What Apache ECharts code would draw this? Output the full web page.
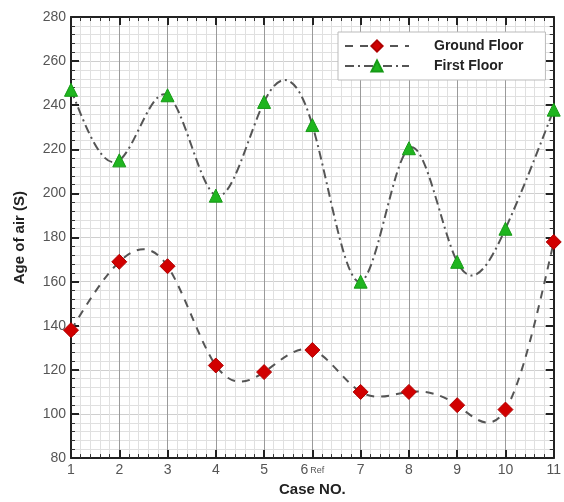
<!DOCTYPE html>
<html>
<head>
<meta charset="utf-8">
<script src="https://cdn.jsdelivr.net/npm/echarts@6/dist/echarts.min.js"></script>
<style>
  html, body { margin: 0; padding: 0; background: #fff; }
  #main { width: 564px; height: 502px; }
</style>
</head>
<body>
<div id="main"></div>
<script>
// case numbers 1..11
var cases = [1, 2, 3, 4, 5, 6, 7, 8, 9, 10, 11];
var groundFloor = [138, 169, 167, 122, 119, 129, 110, 110, 104, 102, 178];
var firstFloor = [247, 215, 244.5, 199, 241.5, 231, 160, 220.5, 169, 184, 238];
var yTicks = [80, 100, 120, 140, 160, 180, 200, 220, 240, 260, 280];

function pairs(vals) {
  return cases.map(function (c, i) { return [c, vals[i]]; });
}

// natural cubic spline through the points, drawn as bezier segments in pixel space
function splinePath(api, xs, ys) {
  var n = xs.length, M = new Array(n).fill(0);
  var a = [], b = [], c = [], d = [];
  for (var i = 1; i < n - 1; i++) {
    var h0 = xs[i] - xs[i - 1], h1 = xs[i + 1] - xs[i];
    a.push(h0); b.push(2 * (h0 + h1)); c.push(h1);
    d.push(6 * ((ys[i + 1] - ys[i]) / h1 - (ys[i] - ys[i - 1]) / h0));
  }
  var m = b.length;
  for (var k = 1; k < m; k++) {
    var w = a[k] / b[k - 1];
    b[k] -= w * c[k - 1];
    d[k] -= w * d[k - 1];
  }
  for (var k2 = m - 1; k2 >= 0; k2--) {
    M[k2 + 1] = (d[k2] - (k2 < m - 1 ? c[k2] * M[k2 + 2] : 0)) / b[k2];
  }
  var p0 = api.coord([xs[0], ys[0]]);
  var path = "M" + p0[0] + " " + p0[1];
  for (var j = 0; j < n - 1; j++) {
    var h = xs[j + 1] - xs[j];
    var s = (ys[j + 1] - ys[j]) / h;
    var d0 = s - h * (2 * M[j] + M[j + 1]) / 6;
    var d1 = s + h * (M[j] + 2 * M[j + 1]) / 6;
    var c1 = api.coord([xs[j] + h / 3, ys[j] + d0 * h / 3]);
    var c2 = api.coord([xs[j + 1] - h / 3, ys[j + 1] - d1 * h / 3]);
    var e = api.coord([xs[j + 1], ys[j + 1]]);
    path += " C" + c1[0] + " " + c1[1] + " " + c2[0] + " " + c2[1] + " " + e[0] + " " + e[1];
  }
  return path;
}

function curveSeries(vals, dash) {
  return {
    type: "custom",
    silent: true,
    clip: false,
    z: 2,
    data: [0],
    renderItem: function (params, api) {
      return {
        type: "path",
        shape: { pathData: splinePath(api, cases, vals) },
        style: { fill: null, stroke: "#555", lineWidth: 2, lineDash: dash }
      };
    }
  };
}

var axisLine = { show: true, lineStyle: { color: "#222", width: 2 } };
var minorTick = { show: true, splitNumber: 5, length: 4, lineStyle: { color: "#333" } };
var minorGrid = { show: true, lineStyle: { color: "#e0e0e0", width: 1 } };
var majorTick = { show: true, inside: true, length: 8, lineStyle: { color: "#222", width: 2 } };

var myChart = echarts.init(document.getElementById("main"));
var option = {
  animation: false,
  textStyle: { fontFamily: "Liberation Sans, Arial, sans-serif" },
  grid: { left: 71, right: 4, top: 17, bottom: 39 },
  legend: {
    left: 338,
    top: 32,
    orient: "vertical",
    backgroundColor: "#fff",
    borderColor: "#bbb",
    borderWidth: 1,
    padding: [7, 22, 7, 6],
    itemGap: 6,
    itemWidth: 64,
    itemHeight: 14,
    textStyle: { fontSize: 14, fontWeight: "bold", color: "#222", padding: [0, 0, 0, 20] },
    data: [
      { name: "Ground Floor", lineStyle: { opacity: 1, color: "#555", width: 2, type: [8, 7] } },
      { name: "First Floor", lineStyle: { opacity: 1, color: "#555", width: 2, type: [9, 4, 2, 4] } }
    ]
  },
  xAxis: [
    {
      type: "value",
      min: 1,
      max: 11,
      interval: 1,
      name: "Case NO.",
      nameLocation: "middle",
      nameGap: 20,
      nameTextStyle: { fontSize: 15, fontWeight: "bold", color: "#222" },
      axisLine: axisLine,
      axisTick: majorTick,
      minorTick: minorTick,
      axisLabel: {
        color: "#555",
        fontSize: 14,
        margin: 5,
        formatter: function (v) { return v === 6 ? "6{r|Ref}" : String(v); },
        rich: { r: { fontSize: 9, color: "#555", padding: [0, 0, 0, 2] } }
      },
      splitLine: { show: true, lineStyle: { color: "#9a9a9a", width: 1 } },
      minorSplitLine: minorGrid
    },
    {
      type: "value",
      position: "top",
      min: 1,
      max: 11,
      interval: 1,
      axisLine: axisLine,
      axisTick: majorTick,
      minorTick: minorTick,
      axisLabel: { show: false },
      splitLine: { show: false }
    }
  ],
  yAxis: [
    {
      type: "value",
      min: 80,
      max: 280,
      interval: 20,
      name: "Age of air (S)",
      nameLocation: "middle",
      nameGap: 44,
      nameTextStyle: { fontSize: 15, fontWeight: "bold", color: "#222" },
      axisLine: axisLine,
      axisTick: majorTick,
      minorTick: minorTick,
      axisLabel: {
        color: "#555",
        fontSize: 14,
        margin: 5,
        formatter: function (v) { return yTicks.indexOf(v) >= 0 ? String(v) : ""; }
      },
      splitLine: { show: true, lineStyle: { color: "#cfcfcf", width: 1 } },
      minorSplitLine: minorGrid
    },
    {
      type: "value",
      position: "right",
      min: 80,
      max: 280,
      interval: 20,
      axisLine: axisLine,
      axisTick: majorTick,
      minorTick: minorTick,
      axisLabel: { show: false },
      splitLine: { show: false }
    }
  ],
  series: [
    curveSeries(groundFloor, [8, 7]),
    curveSeries(firstFloor, [9, 4, 2, 4]),
    {
      name: "Ground Floor",
      type: "line",
      data: pairs(groundFloor),
      symbol: "diamond",
      symbolSize: 15,
      itemStyle: { color: "#d10000", borderColor: "#b00000", borderWidth: 1 },
      lineStyle: { opacity: 0 },
      clip: false,
      z: 3
    },
    {
      name: "First Floor",
      type: "line",
      data: pairs(firstFloor),
      symbol: "triangle",
      symbolSize: 13,
      itemStyle: { color: "#1fb51f", borderColor: "#169a16", borderWidth: 1 },
      lineStyle: { opacity: 0 },
      clip: false,
      z: 3
    }
  ]
};
myChart.setOption(option);
</script>
</body>
</html>
